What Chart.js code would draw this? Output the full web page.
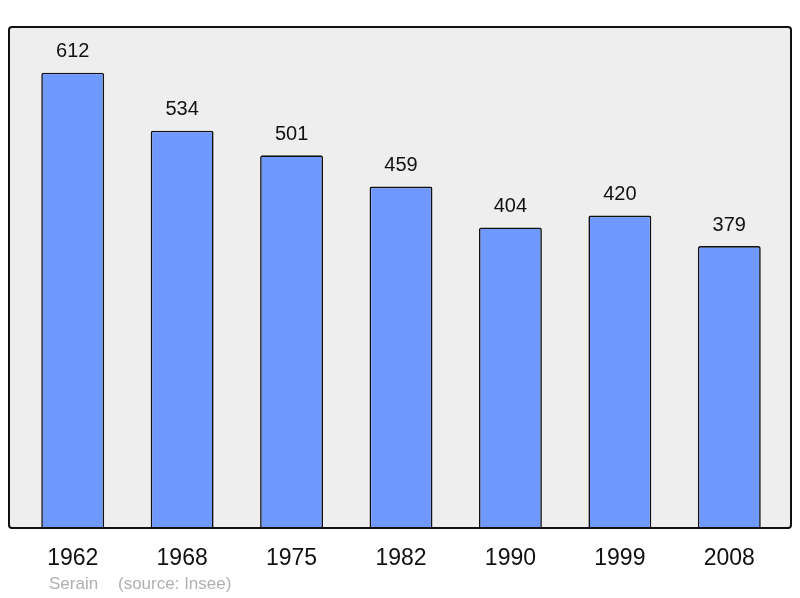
<!DOCTYPE html>
<html>
<head>
<meta charset="utf-8">
<script src="https://cdn.jsdelivr.net/npm/chart.js@4/dist/chart.umd.min.js"></script>
<style>
  html, body { margin: 0; padding: 0; background: #fff; }
  #wrap { width: 800px; height: 598px; }
</style>
</head>
<body>
<div id="wrap"><canvas id="popChart"></canvas></div>
<script>
const years = ['1962', '1968', '1975', '1982', '1990', '1999', '2008'];
const population = [612, 534, 501, 459, 404, 420, 379];
const townName = 'Serain';
const sourceNote = '(source: Insee)';

// grey frame behind the bars, a bit wider than the category area
const framePlugin = {
    id: 'frame',
    beforeDraw(chart) {
        const { ctx, chartArea: a } = chart;
        const x0 = a.left - 9, x1 = a.right + 7, y0 = a.top, y1 = a.bottom;
        ctx.save();
        ctx.beginPath();
        ctx.roundRect(x0, y0, x1 - x0, y1 - y0, 3);
        ctx.fillStyle = '#eeeeee';
        ctx.fill();
        ctx.restore();
    },
    afterDatasetsDraw(chart) {
        const { ctx, chartArea: a } = chart;
        const x0 = a.left - 9, x1 = a.right + 7, y0 = a.top, y1 = a.bottom;
        ctx.save();
        ctx.beginPath();
        ctx.roundRect(x0, y0, x1 - x0, y1 - y0, 3);
        ctx.lineWidth = 2;
        ctx.strokeStyle = '#111';
        ctx.stroke();
        ctx.restore();
    }
};

// value above each bar + footer text
const labelPlugin = {
    id: 'labels',
    afterDraw(chart) {
        const { ctx } = chart;
        const meta = chart.getDatasetMeta(0);
        ctx.save();
        ctx.font = '20px "Liberation Sans", Arial, sans-serif';
        ctx.fillStyle = '#111';
        ctx.textAlign = 'center';
        ctx.textBaseline = 'middle';
        meta.data.forEach((bar, i) => {
            ctx.fillText(String(population[i]), bar.x, bar.y - 21);
        });
        ctx.font = '17px "Liberation Sans", Arial, sans-serif';
        ctx.fillStyle = '#b0b0b0';
        ctx.textAlign = 'left';
        ctx.fillText(townName, 49, 584);
        ctx.fillText(sourceNote, 118, 584);
        ctx.restore();
    }
};

new Chart(document.getElementById('popChart'), {
    type: 'bar',
    data: {
        labels: years,
        datasets: [{
            data: population,
            backgroundColor: '#7099ff',
            borderColor: '#111',
            borderWidth: 1.6,
            borderRadius: 2,
            borderSkipped: 'bottom',
            barPercentage: 0.575,
            categoryPercentage: 1
        }]
    },
    options: {
        responsive: true,
        maintainAspectRatio: false,
        animation: false,
        layout: { padding: { left: 18, right: 16, top: 27, bottom: 8.4 } },
        plugins: {
            legend: { display: false },
            tooltip: { enabled: false }
        },
        scales: {
            x: {
                grid: { display: false, drawTicks: false },
                border: { display: false },
                ticks: {
                    padding: 17,
                    color: '#111',
                    font: { family: '"Liberation Sans", Arial, sans-serif', size: 23 }
                }
            },
            y: {
                display: false,
                min: 0,
                max: 673.5
            }
        }
    },
    plugins: [framePlugin, labelPlugin]
});
</script>
</body>
</html>
